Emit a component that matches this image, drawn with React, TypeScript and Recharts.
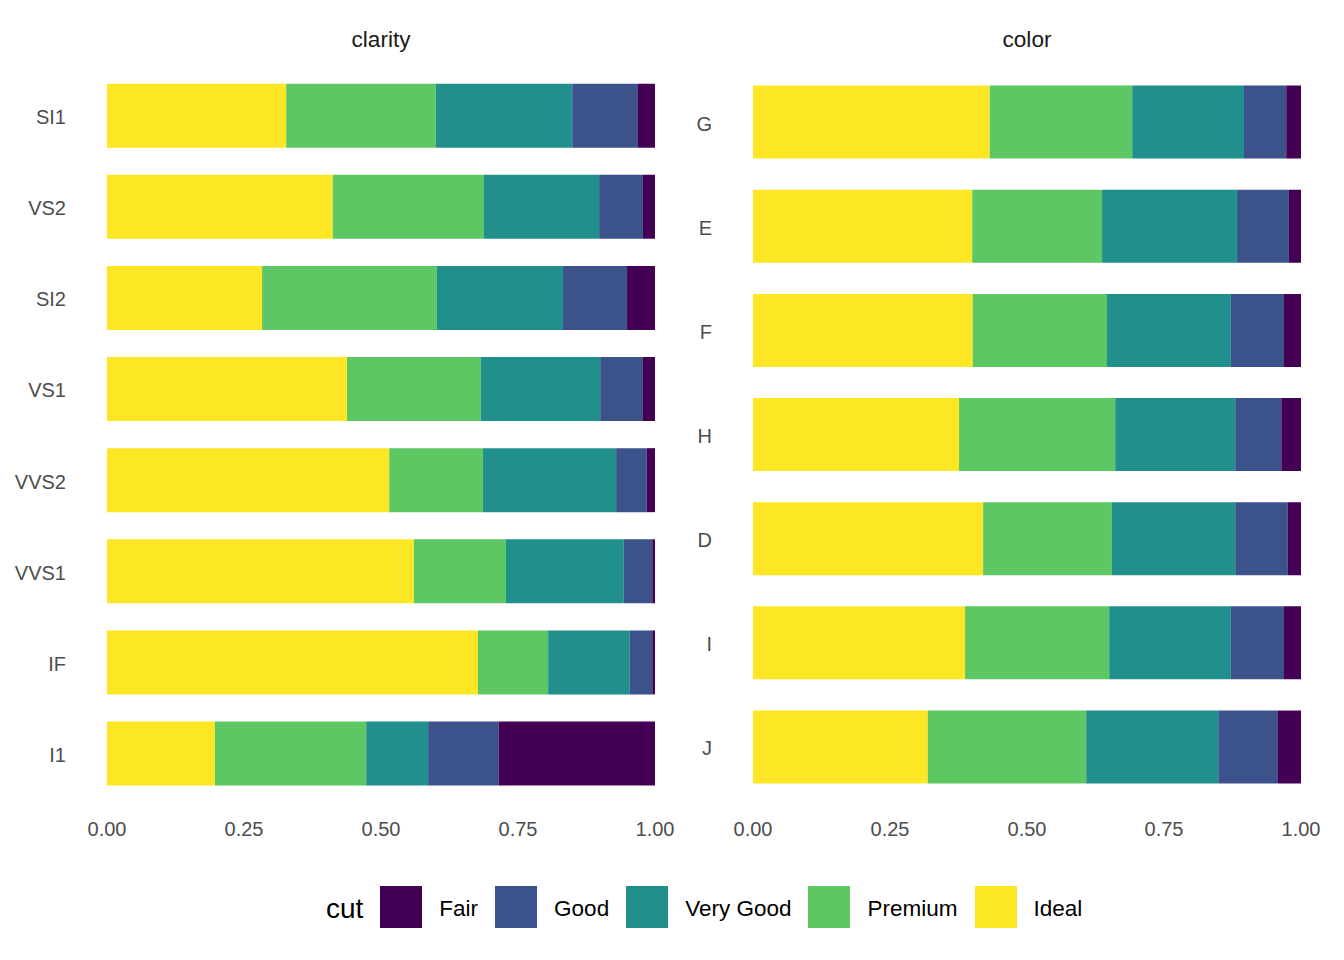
import React from 'react';
import { BarChart, Bar, XAxis, YAxis } from 'recharts';

// viridis(5), Fair -> Ideal
const COLORS = {
  Fair: '#440154',
  Good: '#3B528B',
  'Very Good': '#21908C',
  Premium: '#5DC863',
  Ideal: '#FDE725',
};

const FONT = '"Liberation Sans", Arial, sans-serif';

const CUTS = ['Fair', 'Good', 'Very Good', 'Premium', 'Ideal'];
// drawn left to right: Ideal at the base of the stack
const STACK_ORDER = ['Ideal', 'Premium', 'Very Good', 'Good', 'Fair'];

const X_TICKS = [0, 0.25, 0.5, 0.75, 1];

// proportions within each clarity level (top to bottom)
const clarityLevels = ['SI1', 'VS2', 'SI2', 'VS1', 'VVS2', 'VVS1', 'IF', 'I1'];
const clarityIdeal = [0.327, 0.412, 0.283, 0.438, 0.515, 0.56, 0.677, 0.197];
const clarityPremium = [0.273, 0.276, 0.319, 0.244, 0.171, 0.168, 0.128, 0.276];
const clarityVeryGood = [0.249, 0.21, 0.23, 0.218, 0.243, 0.215, 0.149, 0.113];
const clarityGood = [0.12, 0.08, 0.117, 0.078, 0.056, 0.052, 0.041, 0.129];
const clarityFair = [0.031, 0.022, 0.051, 0.022, 0.015, 0.005, 0.005, 0.285];

// proportions within each color level (top to bottom)
const colorLevels = ['G', 'E', 'F', 'H', 'D', 'I', 'J'];
const colorIdeal = [0.432, 0.4, 0.401, 0.376, 0.42, 0.387, 0.319];
const colorPremium = [0.26, 0.237, 0.245, 0.285, 0.235, 0.263, 0.289];
const colorVeryGood = [0.204, 0.246, 0.226, 0.219, 0.225, 0.222, 0.241];
const colorGood = [0.077, 0.095, 0.097, 0.084, 0.096, 0.097, 0.109];
const colorFair = [0.027, 0.022, 0.031, 0.036, 0.024, 0.031, 0.042];

function buildRows(
  levels: string[],
  ideal: number[],
  premium: number[],
  veryGood: number[],
  good: number[],
  fair: number[],
) {
  return levels.map((level, i) => ({
    level,
    Ideal: ideal[i],
    Premium: premium[i],
    'Very Good': veryGood[i],
    Good: good[i],
    Fair: fair[i],
  }));
}

const clarityData = buildRows(clarityLevels, clarityIdeal, clarityPremium, clarityVeryGood, clarityGood, clarityFair);
const colorData = buildRows(colorLevels, colorIdeal, colorPremium, colorVeryGood, colorGood, colorFair);

function XTick({ x, y, payload }: any) {
  return (
    <text x={x} y={y} dy={37} textAnchor="middle" fontSize={20} fontFamily={FONT} fill="#4d4d4d">
      {Number(payload.value).toFixed(2)}
    </text>
  );
}

function YTick({ x, y, payload }: any) {
  return (
    <text x={x - 41} y={y} dy={8.5} textAnchor="end" fontSize={20} fontFamily={FONT} fill="#4d4d4d">
      {payload.value}
    </text>
  );
}

function Panel({
  data,
  width,
  axisWidth,
  rightMargin,
}: {
  data: any[];
  width: number;
  axisWidth: number;
  rightMargin: number;
}) {
  return (
    <BarChart
      width={width}
      height={860}
      data={data}
      layout="vertical"
      margin={{ top: 70, right: rightMargin, bottom: 0, left: 0 }}
      barCategoryGap="15%"
    >
      <XAxis
        type="number"
        domain={[0, 1]}
        ticks={X_TICKS}
        allowDataOverflow
        axisLine={false}
        tickLine={false}
        tickSize={0}
        tickMargin={0}
        height={61}
        tick={<XTick />}
      />
      <YAxis
        type="category"
        dataKey="level"
        width={axisWidth}
        axisLine={false}
        tickLine={false}
        tickSize={0}
        tickMargin={0}
        tick={<YTick />}
        interval={0}
      />
      {STACK_ORDER.map(cut => (
        <Bar key={cut} dataKey={cut} stackId="cut" fill={COLORS[cut]} isAnimationActive={false} />
      ))}
    </BarChart>
  );
}

const stripStyle: React.CSSProperties = {
  position: 'absolute',
  top: 28,
  width: 548,
  textAlign: 'center',
  fontSize: 22.6,
  lineHeight: '23px',
  color: '#1a1a1a',
  fontFamily: FONT,
};

export default function App() {
  return (
    <div style={{ position: 'absolute', left: 0, top: 0, width: 1344, height: 960, background: '#fff', fontFamily: FONT }}>
      <div style={{ ...stripStyle, left: 107 }}>clarity</div>
      <div style={{ ...stripStyle, left: 753 }}>color</div>

      <div style={{ position: 'absolute', left: 0, top: 0 }}>
        <Panel data={clarityData} width={700} axisWidth={107} rightMargin={45} />
      </div>
      <div style={{ position: 'absolute', left: 660, top: 0 }}>
        <Panel data={colorData} width={684} axisWidth={93} rightMargin={43} />
      </div>

      {/* legend */}
      <div
        style={{
          position: 'absolute',
          left: 326,
          top: 886,
          height: 42,
          display: 'flex',
          alignItems: 'center',
          color: '#000',
        }}
      >
        <span style={{ fontSize: 28, marginRight: 17, position: 'relative', top: 2 }}>cut</span>
        {CUTS.map(cut => (
          <React.Fragment key={cut}>
            <span style={{ display: 'inline-block', width: 42, height: 42, background: COLORS[cut], marginRight: 17 }} />
            <span style={{ fontSize: 22.5, marginRight: 17, position: 'relative', top: 2 }}>{cut}</span>
          </React.Fragment>
        ))}
      </div>
    </div>
  );
}
